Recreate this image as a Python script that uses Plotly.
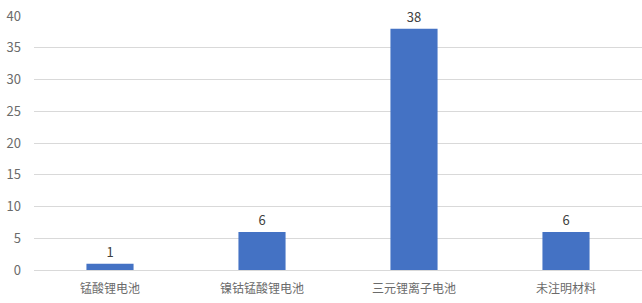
import plotly.graph_objects as go

categories = ["锰酸锂电池", "镍钴锰酸锂电池", "三元锂离子电池", "未注明材料"]
values = [1, 6, 38, 6]
y_ticks = [0, 5, 10, 15, 20, 25, 30, 35, 40]

fig = go.Figure(go.Bar(
    x=categories, y=values,
    marker=dict(color="#4472C4", line=dict(width=0)),
    text=[str(v) for v in values], textposition="outside",
    textfont=dict(size=13, color="#404040"),
    cliponaxis=False,
))
fig.update_layout(
    width=642, height=303,
    margin=dict(l=34, r=0, t=16, b=33),
    plot_bgcolor="white", paper_bgcolor="white",
    bargap=0.69,
    font=dict(family="Noto Sans CJK SC", size=12, color="#595959"),
    showlegend=False,
)
fig.update_xaxes(showgrid=False, showline=True, linecolor="#d9d9d9", ticks="",
                 ticklabelstandoff=8,
                 tickfont=dict(size=12, color="#6b6b6b"))
fig.update_yaxes(range=[0, 40], tickvals=y_ticks, showgrid=True, gridcolor="#d9d9d9",
                 zeroline=False, showline=False, ticks="", ticklabelstandoff=12,
                 tickfont=dict(size=13, color="#6b6b6b"))
fig.write_html("out.html", config={"displayModeBar": False},
               post_script="document.body.style.margin='0';document.body.style.overflow='hidden';")
